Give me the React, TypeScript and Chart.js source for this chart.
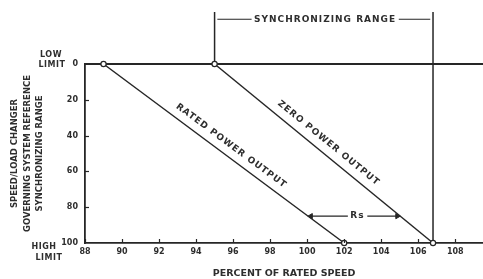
import React, { useEffect, useRef } from 'react';
import { Chart, registerables } from 'chart.js';

Chart.register(...registerables);

// ---------------- data ----------------
const xTicks = [88, 90, 92, 94, 96, 98, 100, 102, 104, 106, 108];
const yTicks = [0, 20, 40, 60, 80, 100];
const xRange = [88, 109.5];
const yRange = [0, 100];

// governor droop lines (speed at reference 0 = low limit, 100 = high limit)
const droopRef = [0, 100];
const ratedPowerSpeed = [89, 102];
const zeroPowerSpeed = [95, 106.8];

// low-limit reference line
const lowLimitSpeed = [88, 109.5];
const lowLimitRef = [0, 0];

// synchronizing range markers
const syncLeftSpeed = [95, 95];
const syncLeftRef = [-29, 0];
const syncRightSpeed = [106.8, 106.8];
const syncRightRef = [-29, 100];
const syncArrowRef = -25;
const syncArrowSpeed = [95.15, 97.0, 104.95, 106.65];
const syncLabelSpeed = 100.97;

// Rs (regulation) arrow
const rsRef = 85;
const rsArrowSpeed = [100.2, 102.2, 103.25, 104.87];
const rsLabelSpeed = 102.72;

// rotated line-label anchors (reference value along the line)
const lineLabelRef = [50.5, 49];

const syncLabel = 'SYNCHRONIZING RANGE';
const ratedLabel = 'RATED POWER OUTPUT';
const zeroLabel = 'ZERO POWER OUTPUT';
const rsLabel = 'Rs';
const yTitle = ['SPEED/LOAD CHANGER', 'GOVERNING SYSTEM REFERENCE', 'SYNCHRONIZING RANGE'];
const xTitle = 'PERCENT OF RATED SPEED';

// ---------------- style ----------------
const ink = '#262626';
const textInk = '#2e2e2e';
const FAMILY = '"DejaVu Sans", "Liberation Sans", sans-serif';

const pts = (xs: number[], ys: number[]) => xs.map((x, i) => ({ x, y: ys[i] }));

const arrowData = (xs: number[], yv: number) => [
  { x: xs[0], y: yv },
  { x: xs[1], y: yv },
  { x: (xs[1] + xs[2]) / 2, y: null as any },
  { x: xs[2], y: yv },
  { x: xs[3], y: yv },
];

const arrowStyle = {
  showLine: true,
  spanGaps: false,
  borderColor: ink,
  borderWidth: 1.1,
  pointStyle: ['triangle', false, false, false, 'triangle'] as any,
  pointRadius: [3, 0, 0, 0, 3],
  pointRotation: [270, 0, 0, 0, 90],
  pointBackgroundColor: ink,
  pointBorderColor: ink,
  pointBorderWidth: 1,
  clip: false as any,
};

const annotate = {
  id: 'annotate',
  afterDatasetsDraw(chart: any) {
    const { ctx } = chart;
    const x = chart.scales.x;
    const y = chart.scales.y;
    ctx.save();
    ctx.strokeStyle = ink;
    ctx.lineWidth = 1.2;
    // inward tick marks
    const axisY = y.getPixelForValue(yRange[1]);
    xTicks.forEach((v) => {
      const px = Math.round(x.getPixelForValue(v)) + 0.5;
      ctx.beginPath();
      ctx.moveTo(px, axisY);
      ctx.lineTo(px, axisY - 4);
      ctx.stroke();
    });
    const axisX = x.getPixelForValue(xRange[0]);
    yTicks.slice(1, -1).forEach((v) => {
      const py = Math.round(y.getPixelForValue(v)) + 0.5;
      ctx.beginPath();
      ctx.moveTo(axisX, py);
      ctx.lineTo(axisX + 4, py);
      ctx.stroke();
    });

    ctx.fillStyle = textInk;
    ctx.font = `bold 9px ${FAMILY}`;
    (ctx as any).letterSpacing = '1px';
    ctx.textAlign = 'center';
    ctx.textBaseline = 'middle';

    ctx.fillText(syncLabel, x.getPixelForValue(syncLabelSpeed), y.getPixelForValue(syncArrowRef));
    ctx.fillText(rsLabel, x.getPixelForValue(rsLabelSpeed), y.getPixelForValue(rsRef));

    const drawAlong = (label: string, speeds: number[], ref: number, d: number) => {
      const x0 = x.getPixelForValue(speeds[0]);
      const y0 = y.getPixelForValue(droopRef[0]);
      const x1 = x.getPixelForValue(speeds[1]);
      const y1 = y.getPixelForValue(droopRef[1]);
      const ang = Math.atan2(y1 - y0, x1 - x0);
      const t = (ref - droopRef[0]) / (droopRef[1] - droopRef[0]);
      const ax = x0 + t * (x1 - x0);
      const ay = y0 + t * (y1 - y0);
      ctx.save();
      ctx.translate(ax + Math.sin(ang) * d, ay - Math.cos(ang) * d);
      ctx.rotate(ang);
      ctx.fillText(label, 0, 0);
      ctx.restore();
    };
    drawAlong(ratedLabel, ratedPowerSpeed, lineLabelRef[0], 10.5);
    drawAlong(zeroLabel, zeroPowerSpeed, lineLabelRef[1], 11);

    // LOW / HIGH LIMIT annotations beside the reference axis
    (ctx as any).letterSpacing = '0.5px';
    ctx.font = `bold 8px ${FAMILY}`;
    const topY = y.getPixelForValue(yRange[0]);
    const botY = y.getPixelForValue(yRange[1]);
    ctx.fillText('LOW', axisX - 34, topY - 9);
    ctx.fillText('LIMIT', axisX - 33, topY + 1);
    ctx.fillText('HIGH', axisX - 41, botY + 4);
    ctx.fillText('LIMIT', axisX - 36, botY + 15);
    ctx.restore();
  },
};

export default function App() {
  const ref = useRef<HTMLCanvasElement>(null);

  useEffect(() => {
    const chart = new Chart(ref.current as HTMLCanvasElement, {
      type: 'scatter',
      data: {
        datasets: [
          {
            label: 'Rated power output',
            data: pts(ratedPowerSpeed, droopRef),
            showLine: true,
            borderColor: ink,
            borderWidth: 1.5,
            pointRadius: 2.6,
            pointBackgroundColor: '#ffffff',
            pointBorderColor: ink,
            pointBorderWidth: 1.2,
            clip: false as any,
          },
          {
            label: 'Zero power output',
            data: pts(zeroPowerSpeed, droopRef),
            showLine: true,
            borderColor: ink,
            borderWidth: 1.5,
            pointRadius: 2.6,
            pointBackgroundColor: '#ffffff',
            pointBorderColor: ink,
            pointBorderWidth: 1.2,
            clip: false as any,
          },
          { label: 'Sync arrow', data: arrowData(syncArrowSpeed, syncArrowRef), ...arrowStyle },
          { label: 'Rs arrow', data: arrowData(rsArrowSpeed, rsRef), ...arrowStyle },
          {
            label: 'Low limit',
            data: pts(lowLimitSpeed, lowLimitRef),
            showLine: true,
            borderColor: ink,
            borderWidth: 1.8,
            pointRadius: 0,
            clip: false as any,
          },
          {
            label: 'Sync left',
            data: pts(syncLeftSpeed, syncLeftRef),
            showLine: true,
            borderColor: ink,
            borderWidth: 1.5,
            pointRadius: 0,
            clip: false as any,
          },
          {
            label: 'Sync right',
            data: pts(syncRightSpeed, syncRightRef),
            showLine: true,
            borderColor: ink,
            borderWidth: 1.5,
            pointRadius: 0,
            clip: false as any,
          },
        ],
      },
      options: {
        animation: false,
        responsive: true,
        maintainAspectRatio: false,
        layout: { autoPadding: false, padding: { top: 64, left: 0, right: 0, bottom: 0 } },
        plugins: { legend: { display: false }, tooltip: { enabled: false } },
        scales: {
          x: {
            type: 'linear',
            position: 'bottom',
            min: xRange[0],
            max: xRange[1],
            afterBuildTicks: (s: any) => {
              s.ticks = xTicks.map((v) => ({ value: v }));
            },
            afterFit: (s: any) => {
              s.height = 36;
            },
            grid: { display: false, drawTicks: false, tickLength: 0 },
            border: { display: true, color: ink, width: 1.8 },
            ticks: {
              autoSkip: false,
              maxRotation: 0,
              padding: 4,
              color: textInk,
              font: { family: FAMILY, size: 8, weight: 'bold' },
              callback: (v: any) => String(v),
            },
            title: {
              display: true,
              text: xTitle,
              color: textInk,
              font: { family: FAMILY, size: 9.5, weight: 'bold', lineHeight: 1.2 },
              padding: { top: 0, bottom: 0 },
            },
          },
          y: {
            type: 'linear',
            reverse: true,
            min: yRange[0],
            max: yRange[1],
            afterBuildTicks: (s: any) => {
              s.ticks = yTicks.map((v) => ({ value: v }));
            },
            afterFit: (s: any) => {
              s.width = 85;
            },
            grid: { display: false, drawTicks: false, tickLength: 0 },
            border: { display: true, color: ink, width: 1.8 },
            ticks: {
              autoSkip: false,
              padding: 7,
              color: textInk,
              font: { family: FAMILY, size: 8, weight: 'bold' },
              callback: (v: any) => String(v),
            },
            title: {
              display: true,
              text: yTitle,
              color: textInk,
              font: { family: FAMILY, size: 8.5, weight: 'bold', lineHeight: 1.45 },
              padding: { top: 9, bottom: 0 },
            },
          },
        },
      },
      plugins: [annotate],
    } as any);
    return () => chart.destroy();
  }, []);

  return (
    <div style={{ position: 'fixed', left: 0, top: 0, width: 483, height: 279, background: '#ffffff' }}>
      <canvas ref={ref} />
    </div>
  );
}
